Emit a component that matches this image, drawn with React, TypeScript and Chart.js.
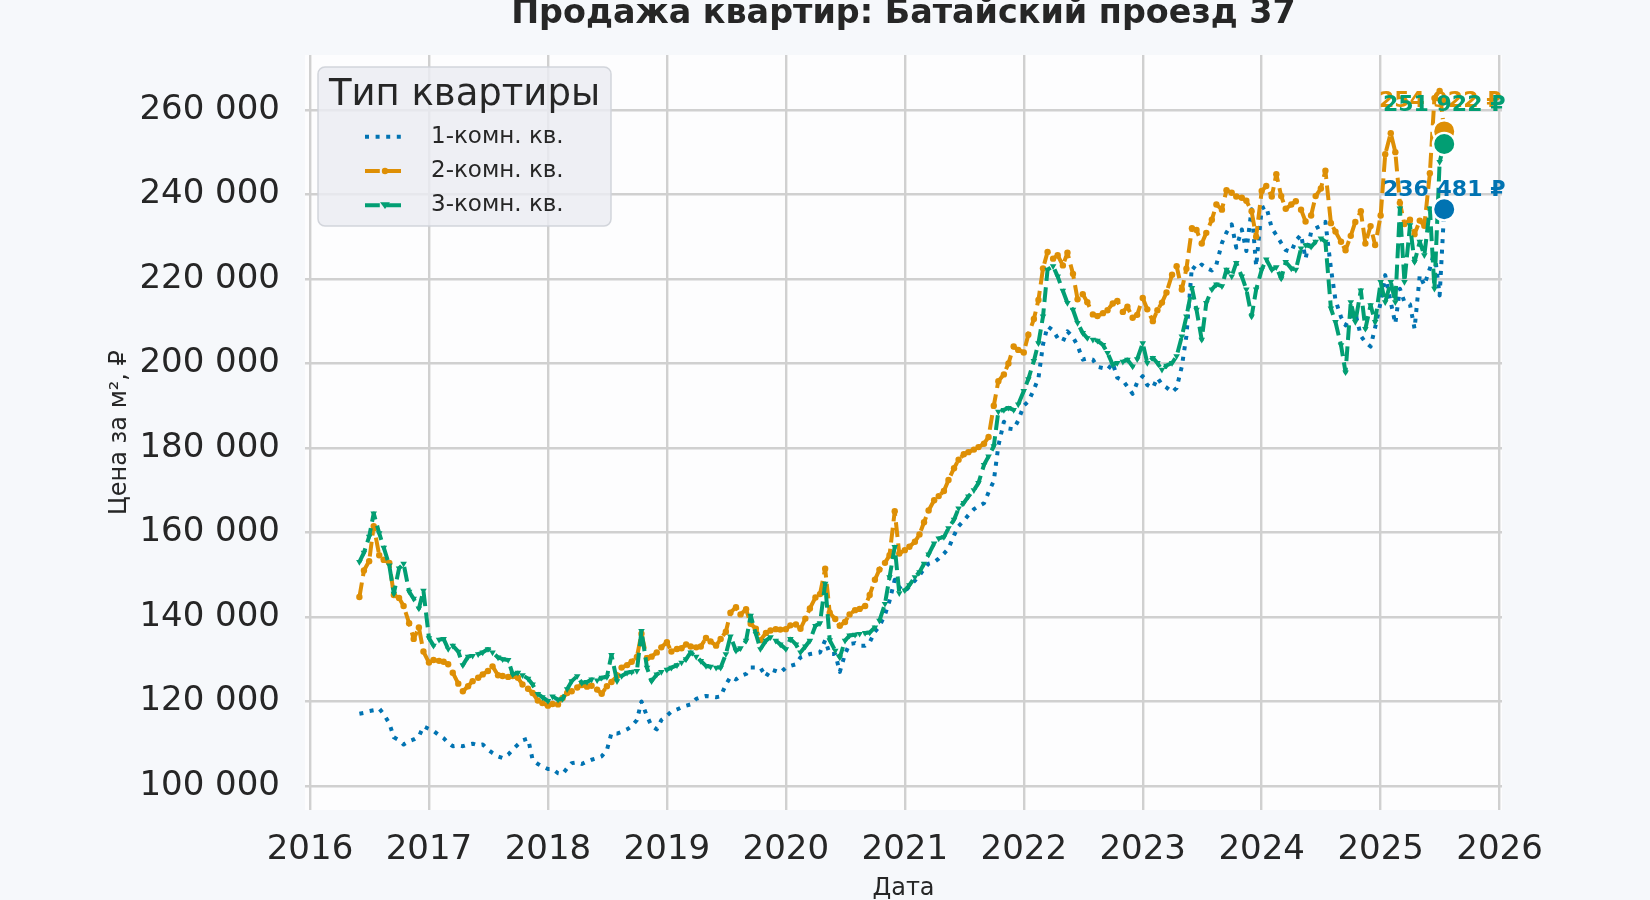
import React, { useEffect, useRef } from "react";
import { Chart, registerables } from "chart.js";

Chart.register(...registerables);

// ---------- DATA ----------
const TITLE = "Продажа квартир: Батайский проезд 37";
const X_TITLE = "Дата";
const Y_TITLE = "Цена за м², ₽";
const LEGEND_TITLE = "Тип квартиры";
const SERIES_LABELS = ["1-комн. кв.", "2-комн. кв.", "3-комн. кв."];
const YEAR_TICKS = [2016, 2017, 2018, 2019, 2020, 2021, 2022, 2023, 2024, 2025, 2026];
const PRICE_TICKS = [100, 120, 140, 160, 180, 200, 220, 240, 260]; // thousand ₽

// observation dates: 1st and 15th of each month, June 2016 – July 2025
const OBS_DAYS = [1, 15];
const pad = (n: number) => (n < 10 ? "0" + n : String(n));
const DATES: string[] = [];
for (let y = 2016, m = 6; y < 2025 || (y === 2025 && m <= 7); ) {
  for (const d of OBS_DAYS) DATES.push(`${y}-${pad(m)}-${pad(d)}`);
  m++;
  if (m > 12) { m = 1; y++; }
}

// price per m², thousand ₽
const ONE_ROOM = [
  117.1, 117.3, 117.7, 117.9, 118.3, 117.0, 114.8, 111.5, 110.8, 109.8, 110.6, 111.0, 111.7, 114.1,
  113.5, 113.0, 112.0, 111.3, 110.2, 109.4, 109.6, 109.4, 109.8, 110.0, 109.6, 109.8, 108.6, 107.8, 107.0, 106.6, 107.4, 108.6, 109.8, 110.8, 111.2, 106.2, 105.2, 104.6,
  104.0, 104.0, 103.0, 102.8, 104.2, 105.4, 105.6, 105.2, 105.8, 106.2, 106.6, 107.0, 108.5, 112.5, 112.4, 112.8, 113.4, 114.1, 115.6, 120.0, 116.5, 114.2, 113.4, 115.6,
  116.6, 117.6, 118.1, 118.6, 119.0, 119.3, 120.6, 121.0, 121.3, 121.2, 121.0, 121.2, 124.0, 125.8, 125.2, 126.0, 126.5, 128.0, 128.0, 128.0, 125.8, 127.6, 127.2, 126.8,
  128.0, 128.4, 128.8, 130.4, 130.8, 131.2, 131.4, 131.6, 134.5, 131.2, 131.2, 127.0, 131.2, 133.6, 133.8, 133.2, 133.2, 134.0, 136.5, 137.8, 140.5, 143.8, 148.8, 147.0,
  146.0, 147.2, 148.6, 149.8, 151.4, 152.6, 153.0, 153.8, 155.0, 156.2, 159.3, 161.5, 162.8, 164.1, 165.5, 166.2, 166.9, 169.5, 172.2, 180.5, 186.2, 184.6, 184.4, 186.5,
  190.0, 191.0, 193.8, 196.5, 204.5, 208.8, 207.8, 206.0, 205.2, 207.6, 206.2, 204.2, 200.9, 201.2, 200.9, 199.2, 198.9, 198.5, 200.1, 196.6, 196.0, 194.5, 192.8, 195.5,
  197.0, 194.9, 194.2, 196.6, 195.0, 194.3, 193.2, 194.2, 199.3, 206.5, 223.0, 222.2, 223.4, 222.6, 222.0, 223.4, 228.5, 231.0, 232.9, 227.4, 231.7, 226.6, 236.5, 223.0,
  236.7, 237.2, 232.0, 230.4, 228.5, 226.8, 226.4, 229.0, 230.5, 224.8, 231.1, 232.0, 232.6, 233.5, 222.5, 215.0, 211.0, 209.0, 211.0, 212.0, 206.5, 205.0, 204.0, 208.5,
  214.5, 220.9, 214.5, 209.4, 217.7, 214.5, 214.0, 208.2, 220.9, 218.5, 222.5, 226.5, 216.1, 236.481,
];
const TWO_ROOM = [
  144.7, 151.0, 153.2, 161.5, 154.6, 153.5, 152.8, 145.2, 144.5, 142.6, 138.5, 134.8, 137.5, 131.8,
  129.2, 129.8, 129.6, 129.4, 128.8, 126.8, 124.2, 122.4, 123.6, 124.8, 125.6, 126.4, 127.2, 128.3, 126.2, 126.0, 125.8, 126.0, 125.6, 124.0, 123.0, 122.0, 120.2, 119.6,
  119.0, 119.4, 119.3, 120.8, 122.0, 122.4, 123.3, 123.9, 123.5, 123.7, 122.8, 121.8, 123.6, 124.6, 126.0, 128.0, 128.6, 129.4, 130.5, 136.0, 130.2, 130.6, 131.6, 132.8,
  134.0, 131.8, 132.4, 132.6, 133.5, 133.0, 132.8, 133.0, 135.0, 134.2, 133.2, 134.8, 136.5, 141.0, 142.3, 140.6, 141.8, 138.4, 137.2, 134.5, 136.2, 136.8, 137.1, 137.0,
  137.1, 138.0, 138.2, 137.2, 139.6, 142.0, 144.6, 145.4, 151.4, 141.0, 139.5, 137.9, 138.8, 140.6, 141.6, 141.9, 142.6, 145.2, 148.8, 151.2, 152.8, 154.6, 165.0, 155.0,
  155.8, 156.6, 157.8, 159.5, 162.4, 165.2, 167.6, 168.6, 169.8, 172.4, 175.2, 177.2, 178.5, 179.0, 179.6, 180.2, 181.0, 182.6, 190.0, 195.8, 197.4, 200.0, 204.0, 203.2,
  202.6, 206.8, 210.5, 215.0, 222.5, 226.4, 224.8, 225.6, 223.2, 226.2, 221.2, 215.2, 216.4, 214.5, 211.6, 211.2, 211.9, 212.6, 214.2, 214.8, 212.2, 213.4, 210.8, 211.5,
  215.5, 212.8, 210.0, 212.6, 214.4, 216.8, 221.0, 223.0, 217.5, 222.4, 232.0, 231.6, 228.4, 230.9, 234.0, 237.6, 236.4, 241.0, 240.4, 239.5, 239.2, 238.5, 236.0, 230.0,
  240.8, 242.0, 239.5, 244.8, 239.6, 236.6, 237.6, 238.4, 236.4, 233.6, 235.0, 239.6, 241.4, 245.6, 233.2, 231.2, 228.8, 226.8, 230.2, 233.5, 236.0, 228.4, 232.5, 228.0,
  235.0, 249.5, 254.5, 250.0, 238.0, 233.0, 234.0, 230.6, 233.8, 232.6, 245.0, 262.8, 264.5, 254.922,
];
const THREE_ROOM = [
  153.0, 155.2, 159.0, 164.5, 159.8, 156.4, 152.2, 145.5, 151.5, 152.6, 146.0, 144.3, 142.0, 146.2,
  135.0, 133.2, 134.6, 134.8, 132.4, 133.2, 131.8, 128.6, 130.6, 130.8, 131.2, 131.6, 132.4, 131.6, 130.4, 130.0, 129.8, 126.4, 126.8, 126.2, 125.4, 124.0, 121.8, 121.0,
  120.1, 121.2, 120.4, 120.6, 122.9, 124.8, 126.0, 124.4, 124.6, 125.2, 125.0, 125.6, 125.8, 131.0, 124.8, 126.0, 126.8, 127.0, 127.2, 136.7, 128.0, 124.8, 126.4, 127.0,
  127.5, 128.0, 128.6, 129.2, 130.0, 131.6, 130.6, 129.6, 128.4, 128.2, 128.0, 128.0, 131.2, 135.4, 132.0, 132.6, 134.4, 140.3, 136.0, 132.4, 134.4, 135.2, 134.4, 133.5,
  132.4, 134.8, 133.5, 131.6, 133.0, 134.4, 137.9, 138.5, 147.9, 134.5, 132.0, 130.4, 134.4, 135.6, 135.8, 136.0, 136.2, 136.3, 137.5, 139.1, 143.1, 149.4, 156.6, 145.6,
  146.3, 147.5, 149.4, 150.6, 152.6, 154.8, 157.4, 158.6, 158.9, 161.0, 163.0, 165.7, 167.0, 168.5, 170.0, 171.7, 176.0, 178.0, 180.4, 188.6, 189.0, 189.5, 189.0, 190.3,
  193.5, 196.3, 200.6, 204.8, 211.1, 222.2, 223.0, 220.6, 217.2, 214.3, 212.7, 209.6, 207.2, 206.0, 205.6, 205.4, 204.4, 202.5, 199.7, 200.1, 200.4, 200.9, 199.3, 201.0,
  204.8, 200.1, 201.3, 200.1, 198.5, 199.5, 200.1, 201.7, 206.4, 211.1, 217.9, 212.7, 205.6, 214.3, 217.5, 218.7, 218.3, 222.2, 220.6, 223.8, 220.6, 217.5, 211.1, 217.5,
  222.2, 224.6, 222.2, 222.8, 220.1, 224.0, 222.5, 222.2, 227.2, 228.0, 227.6, 228.8, 229.6, 228.8, 213.0, 209.8, 204.3, 197.9, 214.5, 209.8, 217.3, 208.2, 213.8, 209.8,
  219.3, 214.5, 219.3, 214.5, 236.7, 219.3, 232.7, 224.0, 228.8, 225.6, 236.7, 217.7, 247.7, 251.922,
];

// ---------- STYLE ----------
const FONT = '"DejaVu Sans", sans-serif';
const FIG_BG = "#f6f8fb";
const PLOT_BG = "#fdfdfe";
const TEXT = "#262626";
const GRID = "#d0d0d0";
const COLORS = ["#0173b2", "#de8f05", "#029e73"];
const DASHES = [[4, 6.6], [14.8, 6.4], [14.8, 6.4]];
const MARKERS = ["none", "circle", "triangle"];
const MARKER_R = [0, 3.2, 3.8];
const LABEL_DX = [0, -4, 0];
const LABEL_DY = [-19, -30, -39];
const X_MIN = 2015.958;
const X_MAX = 2026.02;
const Y_MIN = 94.3;
const Y_MAX = 273.0;

const decimalYear = (s: string) => {
  const [y, m, d] = s.split("-").map(Number);
  const start = Date.UTC(y, 0, 1);
  const end = Date.UTC(y + 1, 0, 1);
  return y + (Date.UTC(y, m - 1, d) - start) / (end - start);
};
const toPoints = (arr: number[]) =>
  DATES.map((d, i) => ({ x: decimalYear(d), y: arr[i] })).filter((p) => p.y !== undefined);
const fmtRub = (v: number) => {
  const s = String(Math.round(v * 1000));
  return s.replace(/\B(?=(\d{3})+(?!\d))/g, " ") + " ₽";
};

const SERIES = [ONE_ROOM, TWO_ROOM, THREE_ROOM];

function drawMarker(ctx: CanvasRenderingContext2D, kind: string, x: number, y: number, r: number, color: string) {
  ctx.fillStyle = color;
  ctx.beginPath();
  if (kind === "circle") {
    ctx.arc(x, y, r, 0, Math.PI * 2);
  } else if (kind === "triangle") {
    const h = r * 1.5;
    ctx.moveTo(x - r * 1.3, y - h / 2);
    ctx.lineTo(x + r * 1.3, y - h / 2);
    ctx.lineTo(x, y + h / 1.5);
    ctx.closePath();
  } else return;
  ctx.fill();
}

const backgroundPlugin = {
  id: "plotBg",
  beforeDraw(chart: any) {
    const { ctx, chartArea: a } = chart;
    ctx.save();
    ctx.fillStyle = FIG_BG;
    ctx.fillRect(0, 0, chart.width, chart.height);
    ctx.fillStyle = PLOT_BG;
    ctx.fillRect(a.left, a.top, a.right - a.left, a.bottom - a.top);
    ctx.restore();
  },
};

const titlePlugin = {
  id: "topTitle",
  afterDraw(chart: any) {
    const { ctx, chartArea: a } = chart;
    ctx.save();
    ctx.font = `bold 33.4px ${FONT}`;
    ctx.fillStyle = TEXT;
    ctx.textAlign = "center";
    ctx.textBaseline = "alphabetic";
    ctx.fillText(TITLE, (a.left + a.right) / 2, 22.5);
    ctx.restore();
  },
};

const overlayPlugin = {
  id: "overlay",
  afterDatasetsDraw(chart: any) {
    const ctx: CanvasRenderingContext2D = chart.ctx;
    ctx.save();
    // end labels
    SERIES.forEach((arr, i) => {
      const meta = chart.getDatasetMeta(3 + i);
      const pt = meta.data[0];
      if (!pt) return;
      ctx.font = `bold 22px ${FONT}`;
      ctx.fillStyle = COLORS[i];
      ctx.textAlign = "center";
      ctx.textBaseline = "middle";
      ctx.fillText(fmtRub(arr[arr.length - 1]), pt.x + LABEL_DX[i], pt.y + LABEL_DY[i]);
    });
    // legend
    const bx = 318, by = 67, bw = 293, bh = 159, br = 7;
    ctx.beginPath();
    ctx.moveTo(bx + br, by);
    ctx.arcTo(bx + bw, by, bx + bw, by + bh, br);
    ctx.arcTo(bx + bw, by + bh, bx, by + bh, br);
    ctx.arcTo(bx, by + bh, bx, by, br);
    ctx.arcTo(bx, by, bx + bw, by, br);
    ctx.closePath();
    ctx.fillStyle = "rgba(234,236,241,0.82)";
    ctx.fill();
    ctx.lineWidth = 1.5;
    ctx.strokeStyle = "rgba(208,211,217,0.95)";
    ctx.stroke();

    ctx.fillStyle = TEXT;
    ctx.font = `37px ${FONT}`;
    ctx.textAlign = "center";
    ctx.textBaseline = "middle";
    ctx.fillText(LEGEND_TITLE, bx + bw / 2, 95);

    SERIES_LABELS.forEach((label, i) => {
      const y = 136.8 + i * 34.2;
      ctx.save();
      ctx.strokeStyle = COLORS[i];
      ctx.lineWidth = 4;
      ctx.lineCap = "butt";
      ctx.setLineDash(DASHES[i]);
      ctx.beginPath();
      ctx.moveTo(365, y);
      ctx.lineTo(405, y);
      ctx.stroke();
      ctx.restore();
      drawMarker(ctx, MARKERS[i], 385, y, MARKER_R[i], COLORS[i]);
      ctx.fillStyle = TEXT;
      ctx.font = `23px ${FONT}`;
      ctx.textAlign = "left";
      ctx.textBaseline = "middle";
      ctx.fillText(label, 431, y);
    });
    ctx.restore();
  },
};

export default function App() {
  const ref = useRef<HTMLCanvasElement>(null);

  useEffect(() => {
    if (!ref.current) return;
    const lineSets = SERIES.map((arr, i) => ({
      label: SERIES_LABELS[i],
      data: toPoints(arr),
      borderColor: COLORS[i],
      backgroundColor: COLORS[i],
      borderWidth: 4,
      borderDash: DASHES[i],
      borderCapStyle: "butt" as const,
      borderJoinStyle: "round" as const,
      tension: 0,
      fill: false,
      pointRadius: MARKER_R[i],
      pointStyle: MARKERS[i] === "none" ? "circle" : MARKERS[i],
      pointRotation: MARKERS[i] === "triangle" ? 180 : 0,
      pointBackgroundColor: COLORS[i],
      pointBorderColor: COLORS[i],
      pointBorderWidth: 0,
      pointHoverRadius: 0,
      order: 6 - i,
    }));
    const dotSets = SERIES.map((arr, i) => {
      const pts = toPoints(arr);
      return {
        label: SERIES_LABELS[i] + " (последнее)",
        data: [pts[pts.length - 1]],
        showLine: false,
        borderColor: "#ffffff",
        backgroundColor: COLORS[i],
        pointRadius: 11.2,
        pointStyle: "circle",
        pointBackgroundColor: COLORS[i],
        pointBorderColor: "#ffffff",
        pointBorderWidth: 2.4,
        pointHoverRadius: 0,
        order: 3 - i,
      };
    });

    const axisFont = { family: FONT, size: 34 };
    const chart = new Chart(ref.current, {
      type: "line",
      data: { datasets: [...lineSets, ...dotSets] as any },
      options: {
        animation: false,
        responsive: false,
        devicePixelRatio: 1,
        events: [],
        layout: { padding: { left: 0, right: 148, top: 55, bottom: 0 } },
        plugins: {
          legend: { display: false },
          tooltip: { enabled: false },
          title: { display: false },
        },
        scales: {
          x: {
            type: "linear",
            min: X_MIN,
            max: X_MAX,
            afterBuildTicks: (s: any) => {
              s.ticks = YEAR_TICKS.map((v) => ({ value: v }));
            },
            afterFit: (s: any) => {
              s.height = 90;
            },
            grid: { color: GRID, lineWidth: 2.4, drawTicks: false },
            border: { display: false },
            ticks: {
              font: axisFont,
              color: TEXT,
              padding: 20,
              autoSkip: false,
              maxRotation: 0,
              callback: (v: any) => String(v),
            },
            title: {
              display: true,
              text: X_TITLE,
              color: TEXT,
              font: { family: FONT, size: 24 },
              padding: { top: 0, bottom: -3 },
            },
          },
          y: {
            type: "linear",
            min: Y_MIN,
            max: Y_MAX,
            afterBuildTicks: (s: any) => {
              s.ticks = PRICE_TICKS.map((v) => ({ value: v }));
            },
            afterFit: (s: any) => {
              s.width = 305;
            },
            grid: { color: GRID, lineWidth: 2.4, drawTicks: false },
            border: { display: false },
            ticks: {
              font: axisFont,
              color: TEXT,
              padding: 25,
              autoSkip: false,
              callback: (v: any) => `${v} 000`,
            },
            title: {
              display: true,
              text: Y_TITLE,
              color: TEXT,
              font: { family: FONT, size: 24 },
              padding: { top: 105, bottom: 0 },
            },
          },
        },
      } as any,
      plugins: [backgroundPlugin, overlayPlugin, titlePlugin],
    });
    return () => chart.destroy();
  }, []);

  return (
    <div style={{ position: "fixed", left: 0, top: 0, width: 1650, height: 900, background: FIG_BG, overflow: "hidden" }}>
      <canvas ref={ref} width={1650} height={900} style={{ display: "block", width: 1650, height: 900 }} />
    </div>
  );
}
